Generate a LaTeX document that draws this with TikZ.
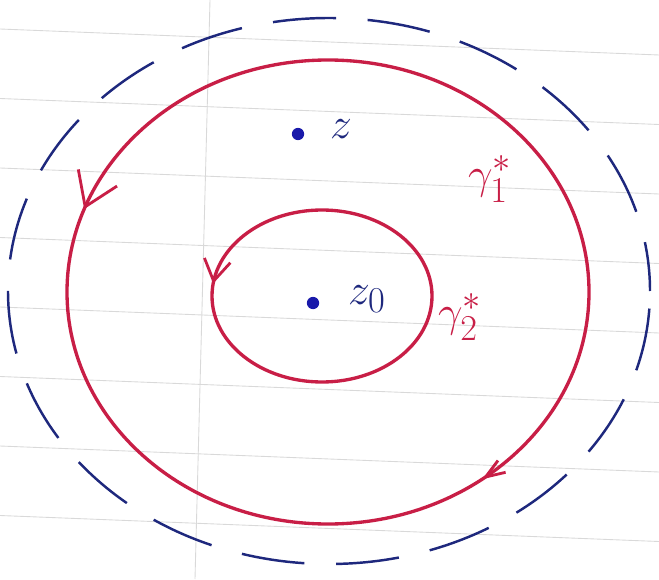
\documentclass[tikz,border=0pt]{standalone}
\usepackage{amsmath}
\usepackage{xcolor}
\usepackage{tikz}
\usetikzlibrary{arrows.meta,decorations.markings}
\definecolor{inkred}{RGB}{200,30,70}
\definecolor{inkblue}{RGB}{30,40,125}
\definecolor{dotblue}{RGB}{25,25,170}
\newcommand{\bigfont}{\fontsize{31}{36}\selectfont}
\tikzset{
  paperline/.style={gray!30,line width=0.5pt},
  contour/.style={inkred,line width=1.9pt},
  regionline/.style={inkblue,line width=1.4pt,dash pattern=on 36pt off 18pt,dash phase=8pt},
  ptdot/.style={circle,fill=dotblue,inner sep=0pt,minimum size=7pt},
  ptlabel/.style={inkblue,font=\bigfont},
  curvelabel/.style={inkred,font=\bigfont},
  ccwmark/.style={postaction={decorate,decoration={markings,
      mark=at position #1 with {\arrow{Straight Barb[length=18pt,width=24pt,line width=1.6pt]}}}}},
  cwmark/.style={postaction={decorate,decoration={markings,
      mark=at position #1 with {\arrowreversed{Straight Barb[length=11pt,width=8pt,line width=1.6pt]}}}}},
  smallmark/.style={postaction={decorate,decoration={markings,
      mark=at position #1 with {\arrow{Straight Barb[length=12pt,width=15pt,line width=1.6pt]}}}}}
}

\begin{document}
\begin{tikzpicture}[x=0.02cm,y=0.02cm]
  \useasboundingbox (0,0) rectangle (659,579);
  % ruled paper
  \foreach \k in {0,...,8}
    \draw[paperline] (0,{550-69.5*\k}) -- (659,{524-69.5*\k});
  \draw[paperline] (210,579) -- (195,0);
  % region and contours
  \draw[regionline] (329,288) ellipse [x radius=321, y radius=273];
  \draw[contour,ccwmark=0.445,cwmark=0.855] (328,287) ellipse [x radius=261, y radius=232];
  \draw[contour,smallmark=0.48] (322,283) ellipse [x radius=110, y radius=86];
  % points
  \node[ptdot] (z) at (298,445) {};
  \node[ptlabel,anchor=south west] (zlab) at (324,434) {$z$};
  \node[ptdot] (zo) at (313,276) {};
  \node[ptlabel,anchor=west] (zolab) at (342,280) {$z_0$};
  % curve names
  \node[curvelabel] (g1) at (490,400) {$\gamma_1^*$};
  \node[curvelabel] (g2) at (460,262) {$\gamma_2^*$};
\end{tikzpicture}
\end{document}
